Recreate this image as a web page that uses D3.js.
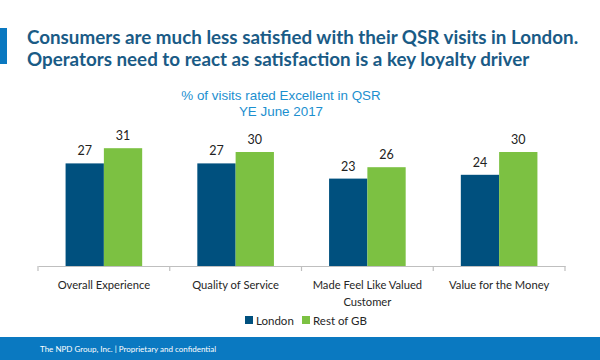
<!DOCTYPE html>
<html lang="en">
<head>
<meta charset="UTF-8">
<script src="https://d3js.org/d3.v7.min.js"></script>
<style>
  body { margin: 0; background: #fff; }
  svg { display: block; }
</style>
</head>
<body>
<script>
  // chart data
  const categories = ["Overall Experience", "Quality of Service", "Made Feel Like Valued Customer", "Value for the Money"];
  const catLines = [["Overall Experience"], ["Quality of Service"], ["Made Feel Like Valued", "Customer"], ["Value for the Money"]];
  const seriesNames = ["London", "Rest of GB"];
  const london = [27, 27, 23, 24];
  const restOfGB = [31, 30, 26, 30];
  const colors = ["#00507e", "#7cc142"];

  const w = 600, h = 360;
  const svg = d3.select("body").append("svg").attr("width", w).attr("height", h);

  const sans = "Lato, 'Open Sans', sans-serif";

  // header
  svg.append("rect").attr("x", 0).attr("y", 28).attr("width", 7).attr("height", 36).attr("fill", "#0a78c0");
  const title = svg.append("text")
    .attr("font-family", sans).attr("font-weight", "bold").attr("font-size", 18.8)
    .attr("fill", "#1a5b86");
  title.append("tspan").attr("x", 27).attr("y", 44).text("Consumers are much less satisfied with their QSR visits in London.");
  title.append("tspan").attr("x", 27).attr("y", 66).text("Operators need to react as satisfaction is a key loyalty driver");

  const sub = svg.append("text")
    .attr("font-family", "'Liberation Sans', Arial, sans-serif").attr("font-size", 13.4)
    .attr("fill", "#1c8fcf").attr("text-anchor", "middle");
  sub.append("tspan").attr("x", 281).attr("y", 100).text("% of visits rated Excellent in QSR");
  sub.append("tspan").attr("x", 281).attr("y", 116).text("YE June 2017");

  // scales
  const x0 = d3.scaleBand().domain(categories).range([38, 565]).paddingInner(0).paddingOuter(0);
  const x1 = d3.scaleBand().domain(seriesNames).range([0, x0.bandwidth()]).paddingInner(0).paddingOuter(0.72);
  const y = d3.scaleLinear().domain([0, 70]).range([266, 0]);

  const rows = categories.map((c, i) => ({ cat: c, vals: [london[i], restOfGB[i]] }));

  const groups = svg.selectAll("g.cat").data(rows).join("g")
    .attr("class", "cat")
    .attr("transform", d => `translate(${x0(d.cat)},0)`);

  groups.selectAll("rect").data(d => d.vals.map((v, j) => ({ name: seriesNames[j], v, j })))
    .join("rect")
    .attr("x", d => x1(d.name))
    .attr("y", d => y(d.v))
    .attr("width", x1.bandwidth())
    .attr("height", d => y(0) - y(d.v))
    .attr("fill", d => colors[d.j]);

  groups.selectAll("text.val").data(d => d.vals.map((v, j) => ({ name: seriesNames[j], v })))
    .join("text")
    .attr("class", "val")
    .attr("x", d => x1(d.name) + x1.bandwidth() / 2)
    .attr("y", d => y(d.v) - 8)
    .attr("text-anchor", "middle")
    .attr("font-family", sans).attr("font-size", 12.5).attr("fill", "#222")
    .text(d => d.v);

  // axis line + tick dividers
  const axis = svg.append("g").attr("transform", `translate(0,${y(0)})`)
    .call(d3.axisBottom(x0).tickSize(0).tickFormat(""));
  axis.select(".domain").attr("stroke", "#bfbfbf").attr("stroke-width", 1.2);
  const dividers = categories.map(c => x0(c)).concat([x0.range()[1]]);
  svg.selectAll("line.div").data(dividers).join("line")
    .attr("x1", d => d).attr("x2", d => d)
    .attr("y1", y(0)).attr("y2", y(0) + 5)
    .attr("stroke", "#bfbfbf").attr("stroke-width", 1.2);

  // category labels
  const catText = svg.selectAll("text.cat").data(categories).join("text")
    .attr("class", "cat")
    .attr("text-anchor", "middle")
    .attr("font-family", sans).attr("font-size", 11.2).attr("fill", "#262626");
  catText.each(function(c, i) {
    catLines[i].forEach((line, k) => {
      d3.select(this).append("tspan")
        .attr("x", x0(c) + x0.bandwidth() / 2)
        .attr("y", 289 + k * 17)
        .text(line);
    });
  });

  // legend
  const legendX = [245, 302];
  const legend = svg.selectAll("g.leg").data(seriesNames).join("g")
    .attr("class", "leg")
    .attr("transform", (d, i) => `translate(${legendX[i]},315)`);
  legend.append("rect").attr("width", 8).attr("height", 8).attr("y", 1).attr("fill", (d, i) => colors[i]);
  legend.append("text").attr("x", 11).attr("y", 9.5)
    .attr("font-family", sans).attr("font-size", 11.5).attr("fill", "#262626")
    .text(d => d);

  // footer band
  svg.append("rect").attr("x", 0).attr("y", 337).attr("width", w).attr("height", 23).attr("fill", "#0a79c1");
  svg.append("text").attr("x", 40).attr("y", 352)
    .attr("font-family", sans).attr("font-size", 8).attr("fill", "#fff")
    .text("The NPD Group, Inc.  |  Proprietary and confidential");
</script>
</body>
</html>
